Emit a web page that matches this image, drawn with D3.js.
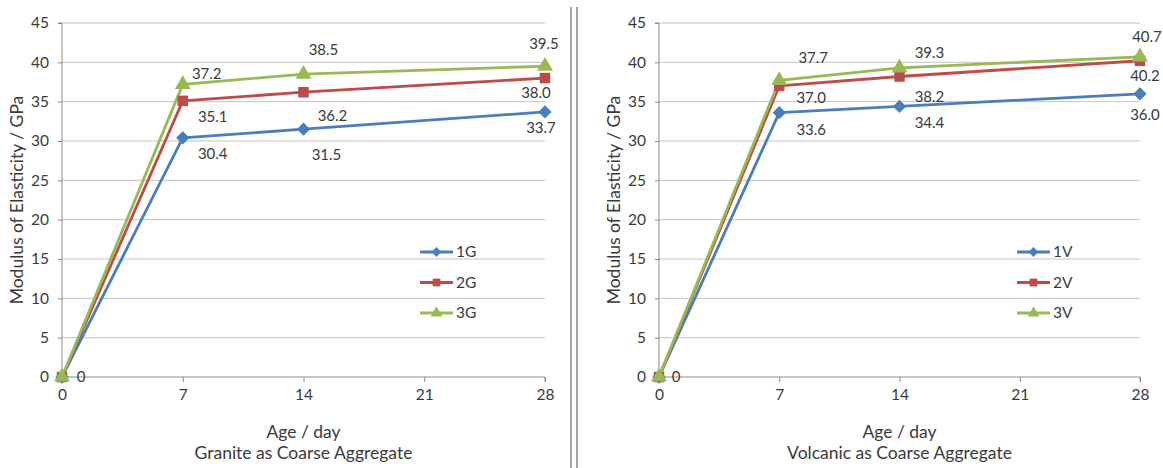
<!DOCTYPE html>
<html>
<head>
<meta charset="utf-8">
<script src="https://cdn.jsdelivr.net/npm/d3@7"></script>
<style>
  html, body { margin: 0; padding: 0; background: #fff; }
  svg { display: block; font-family: Lato, "Open Sans", sans-serif; }
</style>
</head>
<body>
<svg id="chart" width="1163" height="468"></svg>
<script>
// Age of concrete at testing (days)
const ages = [0, 7, 14, 28];
const xTicks = [0, 7, 14, 21, 28];
const yTicks = [0, 5, 10, 15, 20, 25, 30, 35, 40, 45];

// Modulus of elasticity (GPa), granite aggregate mixes
const granite1G = [0, 30.4, 31.5, 33.7];
const granite2G = [0, 35.1, 36.2, 38.0];
const granite3G = [0, 37.2, 38.5, 39.5];

// Modulus of elasticity (GPa), volcanic aggregate mixes
const volcanic1V = [0, 33.6, 34.4, 36.0];
const volcanic2V = [0, 37.0, 38.2, 40.2];
const volcanic3V = [0, 37.7, 39.3, 40.7];

const seriesNamesG = ["1G", "2G", "3G"];
const seriesNamesV = ["1V", "2V", "3V"];

// Label placement (pixel offsets from each point), one row per series
const labelOffsetsG = [
  [[19, 0], [30, 16], [23, 26], [-4, 16]],
  [null, [30, 16], [29, 24], [-9, 15]],
  [null, [24, -11], [20, -24], [-1, -23]]
];
const labelOffsetsV = [
  [[17, 0], [32, 17], [30, 16], [5, 21]],
  [null, [32, 12], [30, 20], [5, 15]],
  [null, [34, -23], [30, -15], [7, -20]]
];

const colors = ["#4a7ebb", "#be4b48", "#98b954"];
const symbols = ["diamond", "square", "triangle"];
const textColor = "#3a3a3a";

const svg = d3.select("#chart");

function drawPanel(opts) {
  const g = svg.append("g");
  const x = d3.scaleLinear().domain([0, 28]).range([opts.x0, opts.x1]);
  const y = d3.scaleLinear().domain([0, 45]).range([377, 23]);

  // horizontal gridlines
  g.append("g").selectAll("line").data(yTicks.filter(v => v > 0)).join("line")
    .attr("x1", opts.x0).attr("x2", opts.x1)
    .attr("y1", d => y(d)).attr("y2", d => y(d))
    .attr("stroke", "#c4c4c4").attr("stroke-width", 1);

  // y axis
  const yAxis = g.append("g").attr("transform", `translate(${opts.x0},0)`)
    .call(d3.axisLeft(y).tickValues(yTicks).tickSize(4).tickPadding(9).tickFormat(d3.format("d")));
  yAxis.select(".domain").attr("stroke", "#8c8c8c").attr("d", `M-4,${y(45)}H0V${y(0)}`);
  yAxis.selectAll(".tick line").attr("stroke", "#8c8c8c");
  yAxis.selectAll("text").attr("fill", textColor).style("font-size", "15.5px")
    .style("font-family", "Lato, 'Open Sans', sans-serif");

  // x axis
  const xAxis = g.append("g").attr("transform", `translate(0,${y(0)})`)
    .call(d3.axisBottom(x).tickValues(xTicks).tickSize(5).tickPadding(7).tickFormat(d3.format("d")));
  xAxis.select(".domain").attr("stroke", "#8c8c8c").attr("d", `M${opts.x0},0H${opts.x1}V5`);
  xAxis.selectAll(".tick line").attr("stroke", "#8c8c8c");
  xAxis.selectAll("text").attr("fill", textColor).style("font-size", "15.5px")
    .style("font-family", "Lato, 'Open Sans', sans-serif");

  const midX = (opts.x0 + opts.x1) / 2;
  g.append("text").attr("x", midX).attr("y", 438).attr("text-anchor", "middle")
    .attr("fill", textColor).style("font-size", "17.5px").text("Age / day");
  g.append("text").attr("x", midX).attr("y", 459).attr("text-anchor", "middle")
    .attr("fill", textColor).style("font-size", "17.5px").text(opts.subtitle);
  g.append("text")
    .attr("transform", `translate(${opts.x0 - 45},${y(22.5)}) rotate(-90)`)
    .attr("text-anchor", "middle").attr("dy", "0.35em")
    .attr("fill", textColor).style("font-size", "17.5px")
    .text("Modulus of Elasticity / GPa");

  const line = d3.line().x((d, i) => x(ages[i])).y(d => y(d));

  const symbolOf = (k, size) => {
    if (k === "diamond") return d3.symbol(d3.symbolSquare, size * 0.8)();
    if (k === "square") return d3.symbol(d3.symbolSquare, size)();
    return d3.symbol(d3.symbolTriangle, size)();
  };

  opts.series.forEach((vals, s) => {
    g.append("path").datum(vals).attr("d", line)
      .attr("fill", "none").attr("stroke", colors[s]).attr("stroke-width", 2.8)
      .attr("stroke-linejoin", "round");
  });
  opts.series.forEach((vals, s) => {
    g.append("g").selectAll("path").data(vals).join("path")
      .attr("d", symbolOf(symbols[s], 110))
      .attr("transform", (d, i) => `translate(${x(ages[i])},${y(d)})` + (symbols[s] === "diamond" ? " rotate(45)" : ""))
      .attr("fill", colors[s]);
  });

  // data labels
  opts.series.forEach((vals, s) => {
    vals.forEach((v, i) => {
      const off = opts.offsets[s][i];
      if (!off) return;
      g.append("text")
        .attr("x", x(ages[i]) + off[0]).attr("y", y(v) + off[1])
        .attr("dy", "0.35em").attr("text-anchor", "middle")
        .attr("fill", textColor).style("font-size", "15px")
        .text(v === 0 ? "0" : d3.format(".1f")(v));
    });
  });

  // legend
  const lg = g.append("g");
  opts.names.forEach((n, s) => {
    const ly = 252 + s * 30.5;
    lg.append("line").attr("x1", opts.legendX).attr("x2", opts.legendX + 33)
      .attr("y1", ly).attr("y2", ly).attr("stroke", colors[s]).attr("stroke-width", 2.8);
    lg.append("path").attr("d", symbolOf(symbols[s], 60))
      .attr("transform", `translate(${opts.legendX + 16.5},${ly})` + (symbols[s] === "diamond" ? " rotate(45)" : ""))
      .attr("fill", colors[s]);
    lg.append("text").attr("x", opts.legendX + 36).attr("y", ly).attr("dy", "0.35em")
      .attr("fill", textColor).style("font-size", "15.5px").text(n);
  });
}

drawPanel({
  x0: 62, x1: 545, legendX: 420, subtitle: "Granite as Coarse Aggregate",
  series: [granite1G, granite2G, granite3G], names: seriesNamesG, offsets: labelOffsetsG
});
drawPanel({
  x0: 659, x1: 1140, legendX: 1017, subtitle: "Volcanic as Coarse Aggregate",
  series: [volcanic1V, volcanic2V, volcanic3V], names: seriesNamesV, offsets: labelOffsetsV
});

// double divider between panels
[571, 577].forEach(xx => {
  svg.append("line").attr("x1", xx).attr("x2", xx).attr("y1", 7).attr("y2", 468)
    .attr("stroke", "#a6a6a6").attr("stroke-width", 2);
});
</script>
</body>
</html>
